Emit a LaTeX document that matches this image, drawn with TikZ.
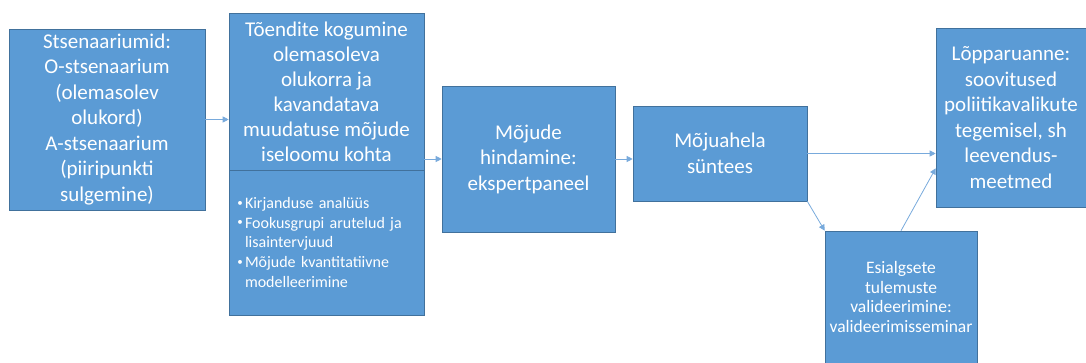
\documentclass[tikz,border=0pt]{standalone}
\usepackage{fontspec}
\setmainfont{Carlito}
\usetikzlibrary{arrows.meta, positioning}
\definecolor{boxblue}{RGB}{91,155,213}
\definecolor{boxedge}{RGB}{65,113,156}
\definecolor{linkblue}{RGB}{120,170,220}
\newcommand{\bul}{\makebox[10pt][c]{\raisebox{2.5pt}{\fontsize{11}{11}\selectfont\textbullet}}}

\begin{document}
\begin{tikzpicture}[x=1pt, y=-1pt,
	box/.style={rectangle, draw=boxedge, line width=0.6pt, fill=boxblue, text=white, align=center, inner sep=1pt, font=\fontsize{21}{25.5}\selectfont},
	link/.style={draw=linkblue, line width=0.8pt, -{Triangle[length=6pt,width=6pt]}}]
	\useasboundingbox (0,0) rectangle (1086,363);
	\node[box, minimum width=196pt, minimum height=181pt] (scen) at (107,119.5) {Stsenaariumid:\\O-stsenaarium\\(olemasolev\\olukord)\\A-stsenaarium\\(piiripunkti\\sulgemine)};
	\node[box, minimum width=195pt, minimum height=157pt, font=\fontsize{21}{25}\selectfont] (evid) at (326.5,91.5) {Tõendite kogumine\\olemasoleva\\olukorra ja\\kavandatava\\muudatuse mõjude\\iseloomu kohta};
	\node[box, minimum width=195pt, minimum height=145pt, text width=183pt, inner xsep=6pt, align=left, font=\fontsize{16}{19.7}\selectfont] (meth) at (326.5,242.5) {\bul Kirjanduse analüüs\\\bul Fookusgrupi arutelud ja\\\hspace*{10pt}lisaintervjuud\\\bul Mõjude kvantitatiivne\\\hspace*{10pt}modelleerimine};
	\node[box, minimum width=173pt, minimum height=146pt] (hind) at (528.5,159) {Mõjude\\hindamine:\\ekspertpaneel};
	\node[box, minimum width=174pt, minimum height=95pt] (synt) at (720,153.5) {Mõjuahela\\süntees};
	\node[box, minimum width=152pt, minimum height=132pt, font=\fontsize{17.5}{19.5}\selectfont] (valid) at (901,297) {Esialgsete\\tulemuste\\valideerimine:\\valideerimisseminar};
	\node[box, minimum width=150pt, minimum height=179pt, font=\fontsize{21}{25.6}\selectfont] (final) at (1011,117.5) {Lõpparuanne:\\soovitused\\poliitikavalikute\\tegemisel, sh\\leevendus-\\meetmed};
	\draw[link] (scen.east) -- (scen.east -| evid.west);
	\draw[link] (hind.west -| evid.east) -- (hind.west);
	\draw[link] (hind.east) -- (hind.east -| synt.west);
	\draw[link] (synt.east) -- (synt.east -| final.west);
	\draw[link] (synt.south east) -- (valid.north west);
	\draw[link] (valid.north) -- ([yshift=39pt]final.south west);
\end{tikzpicture}
\end{document}
